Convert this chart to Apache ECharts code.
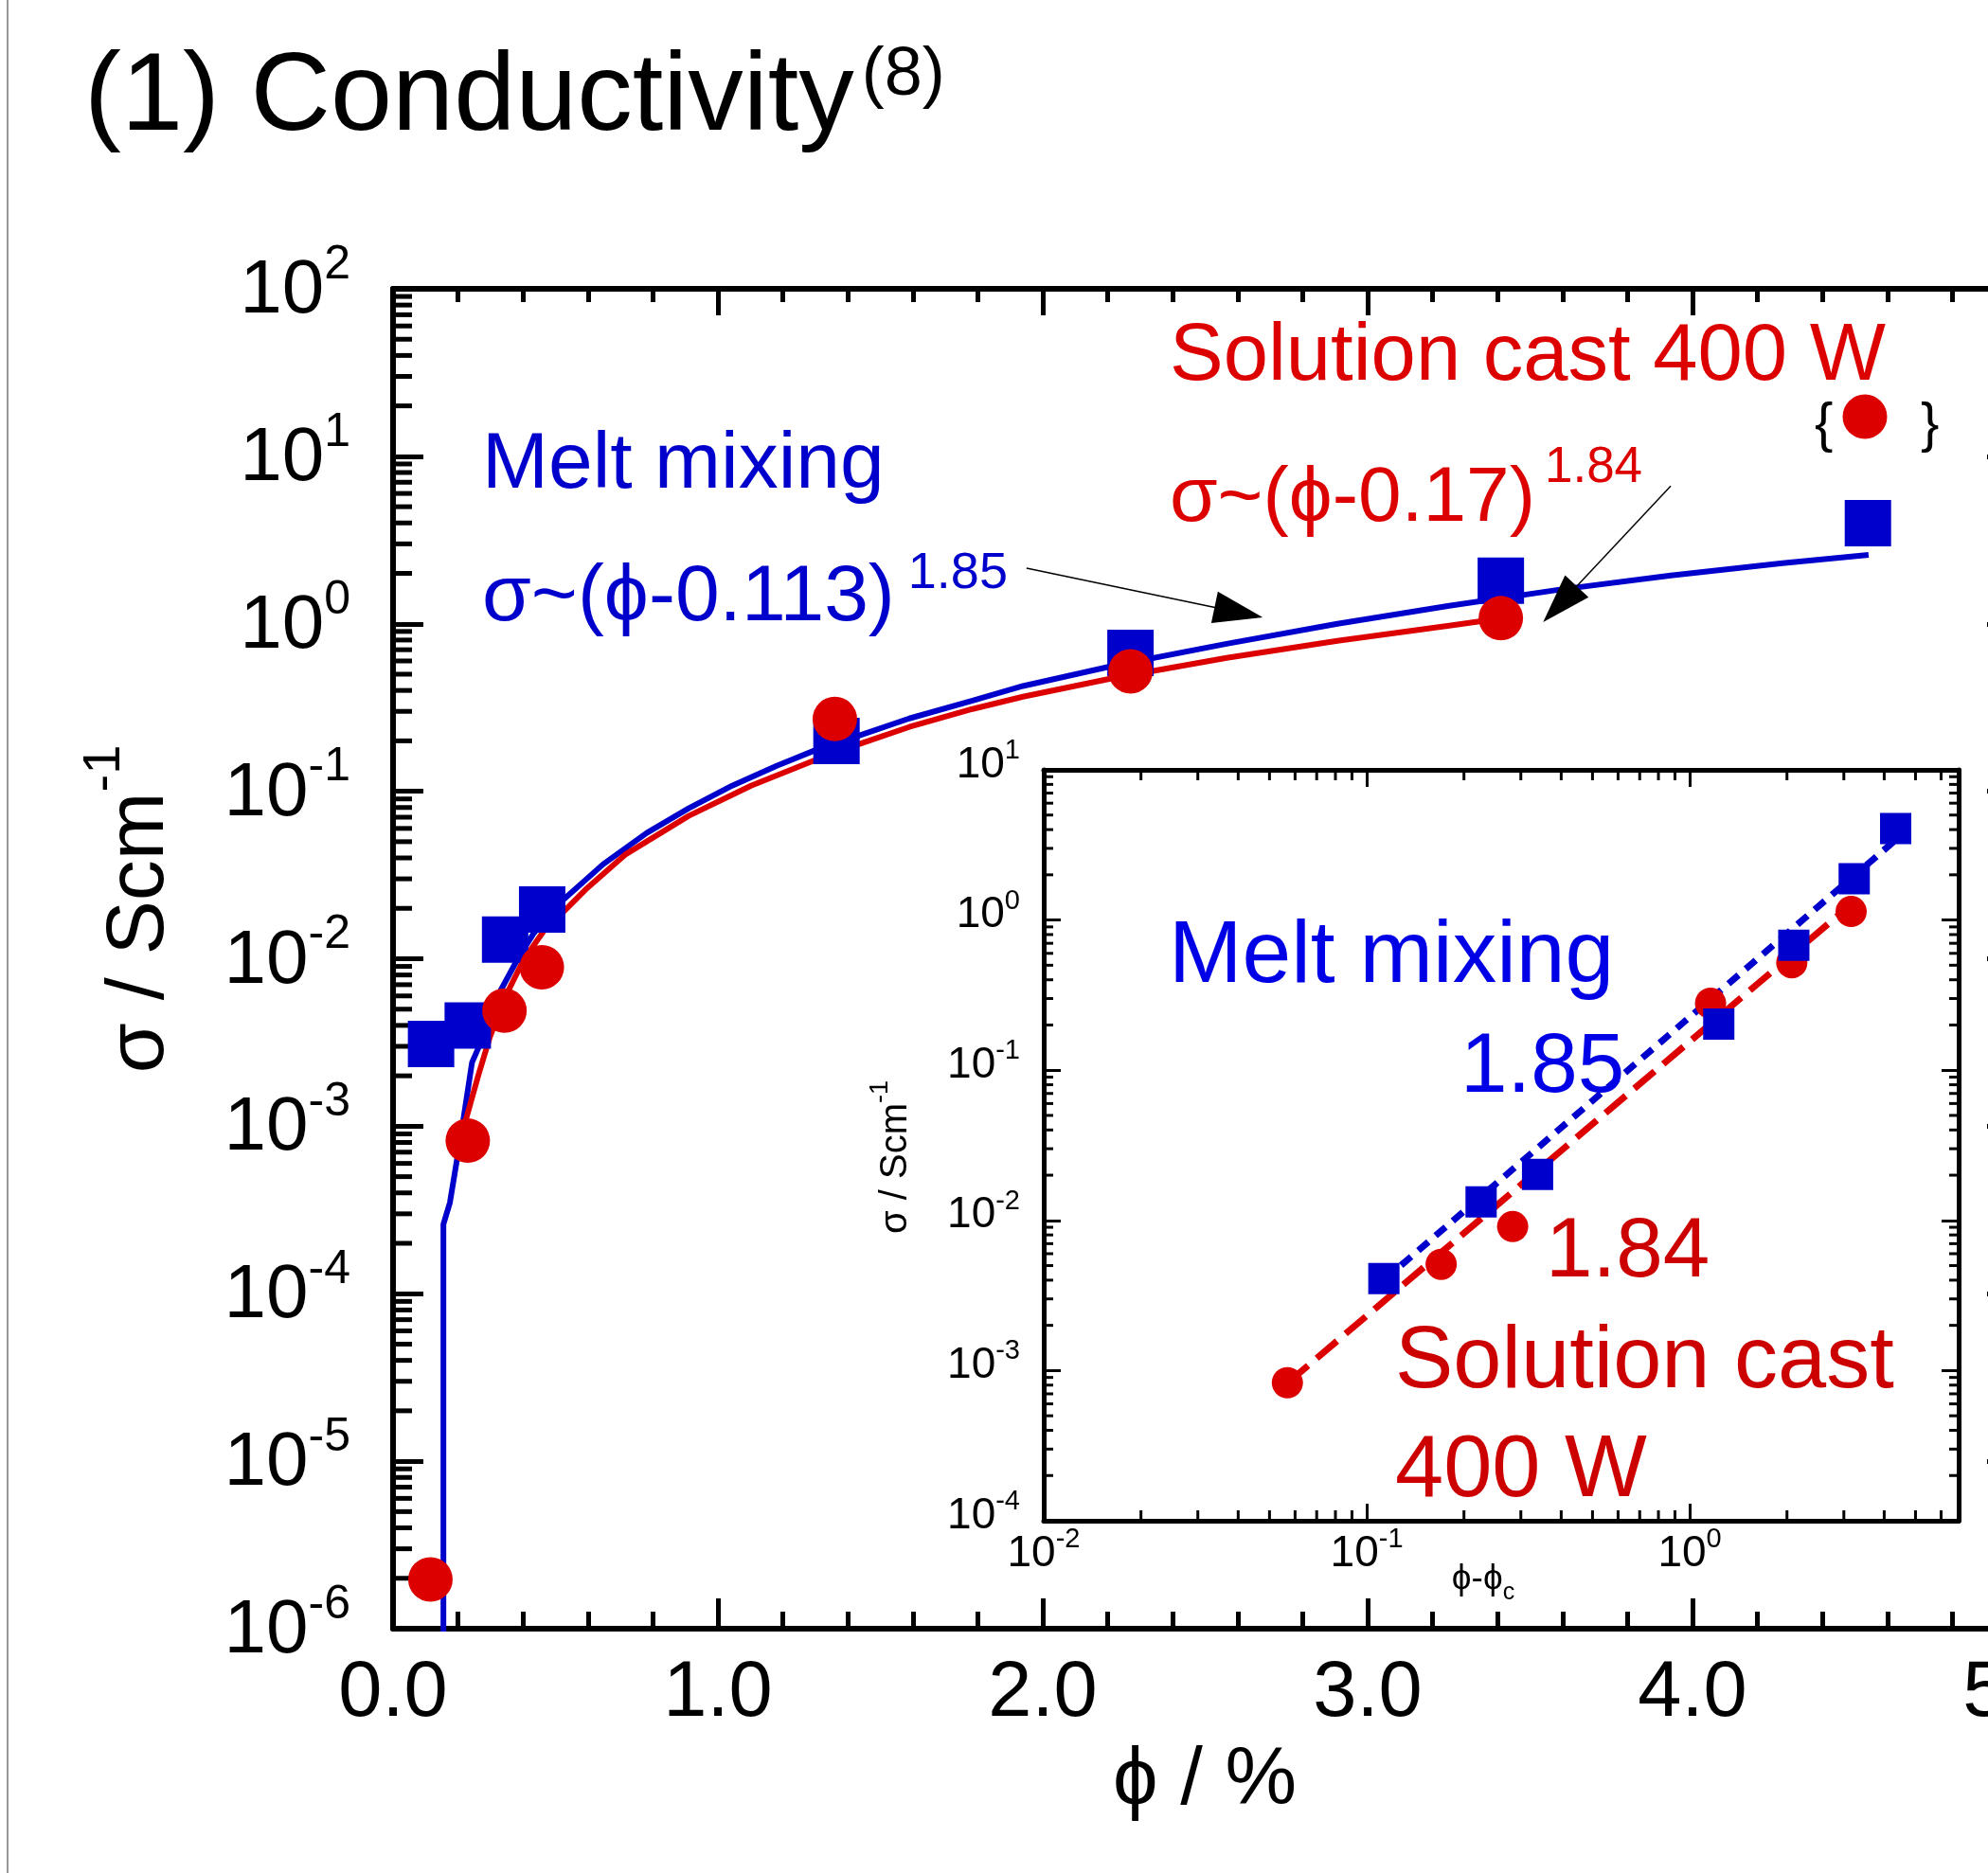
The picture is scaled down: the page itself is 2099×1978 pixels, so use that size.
<!DOCTYPE html>
<html>
<head>
<meta charset="utf-8">
<title>Conductivity</title>
<script src="https://cdn.jsdelivr.net/npm/echarts@6/dist/echarts.min.js"></script>
<style>
  html, body { margin: 0; padding: 0; background: #fff; }
  #main { width: 2099px; height: 1978px; }
</style>
</head>
<body>
<div id="main"></div>
<script>
var FONT = '"Liberation Sans", Arial, Helvetica, sans-serif';
var BLUE = '#0000cc', RED = '#dd0000';

// main plot : phi / %  vs  sigma / S cm-1
var meltPhi   = [0.117, 0.23, 0.345, 0.459, 1.365, 2.27, 3.41, 4.54];
var meltSigma = [3.1e-3, 4.0e-3, 1.3e-2, 1.97e-2, 0.20, 0.67, 1.81, 3.99];
var castPhi   = [0.115, 0.23, 0.343, 0.458, 1.36, 2.27, 3.41];
var castSigma = [1.97e-6, 8.2e-4, 4.9e-3, 8.9e-3, 0.27, 0.52, 1.08];

// fitted curves
var meltFitPhi   = [0.155, 0.155, 0.175, 0.209, 0.243, 0.277, 0.326, 0.384, 0.432, 0.510, 0.647, 0.781, 0.910, 1.044, 1.181, 1.297, 1.434, 1.589, 1.784, 1.939, 2.222, 2.566, 2.907, 3.251, 3.592, 3.933, 4.277, 4.542];
var meltFitSigma = [5e-7, 2.6e-4, 3.5e-4, 8.8e-4, 2.4e-3, 3.4e-3, 6.2e-3, 1.0e-2, 1.41e-2, 2.13e-2, 3.67e-2, 5.64e-2, 7.91e-2, 0.108, 0.142, 0.175, 0.215, 0.272, 0.348, 0.425, 0.564, 0.760, 1.00, 1.28, 1.60, 1.94, 2.30, 2.58];
var castFitPhi   = [0.224, 0.262, 0.297, 0.345, 0.403, 0.471, 0.510, 0.598, 0.714, 0.910, 1.102, 1.297, 1.434, 1.589, 1.784, 1.939, 2.222, 2.566, 2.907, 3.251, 3.402];
var castFitSigma = [1.09e-3, 2.0e-3, 3.36e-3, 5.9e-3, 9.95e-3, 1.53e-2, 1.79e-2, 2.65e-2, 4.18e-2, 7.13e-2, 0.108, 0.153, 0.191, 0.242, 0.310, 0.367, 0.476, 0.626, 0.791, 0.975, 1.07];

// inset : phi - phi_c
var meltDx      = [0.113, 0.226, 0.338, 1.23, 2.10, 3.23, 4.34];
var meltDxSigma = [4.1e-3, 1.33e-2, 2.02e-2, 0.203, 0.68, 1.88, 4.07];
var castDx      = [0.0568, 0.170, 0.283, 1.16, 2.07, 3.16];
var castDxSigma = [8.3e-4, 5.1e-3, 9.1e-3, 0.279, 0.52, 1.14];
var meltLineDx = [0.113, 4.4], meltLineSigma = [4.0e-3, 3.5];
var castLineDx = [0.057, 3.2], castLineSigma = [8.3e-4, 1.3];

// annotation arrows [start, head] in main plot data coords
var arrowMelt = [[1.95, 2.15], [2.603, 1.17]];
var arrowCast = [[3.933, 6.65], [3.592, 1.31]];

function zip(a, b) {
  var r = [];
  for (var i = 0; i < a.length; i++) r.push([a[i], b[i]]);
  return r;
}

// minor ticks of log axes (2..9 x 10^d)
function logMinor(d0, d1, maxV) {
  var r = [];
  for (var d = d0; d <= d1; d++) {
    for (var m = 2; m <= 9; m++) {
      var v = m * Math.pow(10, d);
      if (v <= maxV) r.push(v);
    }
  }
  return r;
}

var mainTicks = [];
logMinor(-6, 1, 100).forEach(function (v) {
  mainTicks.push([0, v, 20, 0]);
  mainTicks.push([5, v, -20, 0]);
});
var insetTicks = [];
logMinor(-4, 0, 10).forEach(function (v) {
  insetTicks.push([0.01, v, 10, 0]);
  insetTicks.push([6.8, v, -10, 0]);
});
logMinor(-2, 0, 6.8).forEach(function (v) {
  insetTicks.push([v, 1e-4, 0, -11]);
  insetTicks.push([v, 10, 0, 11]);
});

function tickRenderer(w) {
  return function (params, api) {
    var p = api.coord([api.value(0), api.value(1)]);
    return {
      type: 'line',
      shape: { x1: p[0], y1: p[1], x2: p[0] + api.value(2), y2: p[1] + api.value(3) },
      style: { stroke: '#000', lineWidth: w }
    };
  };
}

function powLabel(v) {
  var e = Math.log(v) / Math.LN10;
  var n = Math.round(e);
  if (Math.abs(e - n) > 1e-6) return '';
  return '{b|10}{s|' + n + '}';
}

// superscript: sup centre sits `rise` px above the main text centre
function supRich(fs, sfs, lm, rise, gap, color, fillKey) {
  var b = { fontSize: fs, lineHeight: lm, fontFamily: FONT };
  var s = { fontSize: sfs, lineHeight: sfs, verticalAlign: 'top', fontFamily: FONT,
            padding: [Math.max(0, lm / 2 - sfs / 2 - rise), 0, 0, gap] };
  b[fillKey] = color; s[fillKey] = color;
  return { b: b, s: s };
}

function axisLine(w) {
  return { show: true, onZero: false, lineStyle: { color: '#000', width: w } };
}
function ticks(len, w) {
  return { show: true, inside: true, length: len, lineStyle: { color: '#000', width: w } };
}

function label(x, y, text, size, color) {
  return {
    type: 'text', x: x, y: y + 0.045 * size, z: 100,
    style: { text: text, fontSize: size, fontFamily: FONT, fill: color, align: 'left', verticalAlign: 'middle' }
  };
}
function supLabel(x, y, main, sup, color, fs, sfs, rise, gap) {
  return {
    type: 'text', x: x, y: y + 0.045 * fs, z: 100,
    style: {
      text: '{b|' + main + '}{s|' + sup + '}', align: 'left', verticalAlign: 'middle',
      rich: supRich(fs, sfs, fs + 50, rise, gap, color, 'fill')
    }
  };
}

var chart = echarts.init(document.getElementById('main'));

var option = {
  animation: false,
  backgroundColor: '#fff',
  textStyle: { fontFamily: FONT },
  grid: [
    { left: 415, top: 305, right: -31, bottom: 258, outerBoundsMode: 'none', containLabel: false },
    { left: 1102, top: 813, right: 31, bottom: 372, outerBoundsMode: 'none', containLabel: false,
      show: true, backgroundColor: '#fff', borderWidth: 0 }
  ],
  xAxis: [
    {
      gridIndex: 0, type: 'value', position: 'bottom', min: 0, max: 5, interval: 1,
      axisLine: axisLine(6), axisTick: ticks(32, 5),
      minorTick: { show: true, splitNumber: 5, length: 18, lineStyle: { color: '#000', width: 5 } },
      axisLabel: {
        fontSize: 83, lineHeight: 83, color: '#000', margin: 28, fontFamily: FONT,
        showMaxLabel: true,
        formatter: function (v) { return v.toFixed(1); }
      },
      splitLine: { show: false }
    },
    {
      gridIndex: 0, type: 'value', position: 'top', min: 0, max: 5, interval: 1,
      axisLine: axisLine(6), axisTick: ticks(28, 5),
      minorTick: { show: true, splitNumber: 5, length: 14, lineStyle: { color: '#000', width: 5 } },
      axisLabel: { show: false }, splitLine: { show: false }
    },
    {
      gridIndex: 1, type: 'log', position: 'bottom', min: 0.01, max: 6.8, splitNumber: 10,
      axisLine: axisLine(5), axisTick: ticks(18, 3),
      axisLabel: { formatter: powLabel, margin: 0, rich: supRich(46, 29, 70, 15, 0, '#000', 'color') },
      splitLine: { show: false }
    },
    {
      gridIndex: 1, type: 'log', position: 'top', min: 0.01, max: 6.8, splitNumber: 10,
      axisLine: axisLine(5), axisTick: ticks(18, 3),
      axisLabel: { show: false }, splitLine: { show: false }
    }
  ],
  yAxis: [
    {
      gridIndex: 0, type: 'log', position: 'left', min: 1e-6, max: 100, splitNumber: 10,
      axisLine: axisLine(6), axisTick: ticks(32, 5),
      axisLabel: { formatter: powLabel, margin: 45, padding: [6, 0, 0, 0],
                   rich: supRich(80, 50, 120, 28, 0, '#000', 'color') },
      splitLine: { show: false }
    },
    {
      gridIndex: 0, type: 'log', position: 'right', min: 1e-6, max: 100, splitNumber: 10,
      axisLine: axisLine(6), axisTick: ticks(32, 5),
      axisLabel: { show: false }, splitLine: { show: false }
    },
    {
      gridIndex: 1, type: 'log', position: 'left', min: 1e-4, max: 10, splitNumber: 10,
      axisLine: axisLine(5), axisTick: ticks(18, 3),
      axisLabel: { formatter: powLabel, margin: 25, padding: [0, 0, 10, 0],
                   rich: supRich(46, 29, 70, 15, 0, '#000', 'color') },
      splitLine: { show: false }
    },
    {
      gridIndex: 1, type: 'log', position: 'right', min: 1e-4, max: 10, splitNumber: 10,
      axisLine: axisLine(5), axisTick: ticks(18, 3),
      axisLabel: { show: false }, splitLine: { show: false }
    }
  ],
  series: [
    {
      type: 'custom', name: 'minor ticks', xAxisIndex: 0, yAxisIndex: 0,
      renderItem: tickRenderer(5), data: mainTicks, encode: { x: 0, y: 1 }, silent: true, z: 1
    },
    {
      type: 'line', name: 'Melt mixing fit', xAxisIndex: 0, yAxisIndex: 0,
      data: zip(meltFitPhi, meltFitSigma), symbol: 'none',
      lineStyle: { color: BLUE, width: 6 }, z: 2,
      markLine: {
        silent: true, symbol: ['none', 'triangle'],
        label: { show: false },
        lineStyle: { color: '#000', width: 1.5, type: 'solid', opacity: 1 },
        itemStyle: { color: '#000' },
        emphasis: { disabled: true },
        data: [
          [{ coord: arrowMelt[0] }, { coord: arrowMelt[1], symbolSize: [34, 52] }],
          [{ coord: arrowCast[0] }, { coord: arrowCast[1], symbolSize: [34, 52] }]
        ]
      }
    },
    {
      type: 'line', name: 'Solution cast fit', xAxisIndex: 0, yAxisIndex: 0,
      data: zip(castFitPhi, castFitSigma), symbol: 'none',
      lineStyle: { color: RED, width: 6 }, z: 3
    },
    {
      type: 'scatter', name: 'Melt mixing', xAxisIndex: 0, yAxisIndex: 0,
      symbol: 'rect', symbolSize: 49, itemStyle: { color: BLUE, opacity: 1 },
      data: zip(meltPhi, meltSigma), z: 4
    },
    {
      type: 'scatter', name: 'Solution cast 400 W', xAxisIndex: 0, yAxisIndex: 0,
      symbol: 'circle', symbolSize: 47, itemStyle: { color: RED, opacity: 1 },
      data: zip(castPhi, castSigma), z: 5
    },
    // inset
    {
      type: 'custom', name: 'inset minor ticks', xAxisIndex: 2, yAxisIndex: 2,
      renderItem: tickRenderer(3), data: insetTicks, encode: { x: 0, y: 1 }, silent: true, z: 6
    },
    {
      type: 'line', name: 'Melt mixing slope', xAxisIndex: 2, yAxisIndex: 2,
      data: zip(meltLineDx, meltLineSigma), symbol: 'none',
      lineStyle: { color: BLUE, width: 7, type: [14, 10] }, z: 7
    },
    {
      type: 'line', name: 'Solution cast slope', xAxisIndex: 2, yAxisIndex: 2,
      data: zip(castLineDx, castLineSigma), symbol: 'none',
      lineStyle: { color: RED, width: 7, type: [28, 12] }, z: 8
    },
    {
      type: 'scatter', name: 'Solution cast (inset)', xAxisIndex: 2, yAxisIndex: 2,
      symbol: 'circle', symbolSize: 33, itemStyle: { color: RED, opacity: 1 },
      data: zip(castDx, castDxSigma), z: 9
    },
    {
      type: 'scatter', name: 'Melt mixing (inset)', xAxisIndex: 2, yAxisIndex: 2,
      symbol: 'rect', symbolSize: 33, itemStyle: { color: BLUE, opacity: 1 },
      data: zip(meltDx, meltDxSigma), z: 10
    }
  ],
  graphic: {
    elements: [
      { type: 'line', shape: { x1: 8, y1: 0, x2: 8, y2: 1978 }, style: { stroke: '#999', lineWidth: 2 } },
      supLabel(89, 99, '(1) Conductivity', '(8)', '#000', 117, 72, 24, 8),
      label(509, 488, 'Melt mixing', 84, BLUE),
      supLabel(509, 628, 'σ~(ϕ-0.113)', '1.85', BLUE, 84, 54, 26, 14),
      label(1235, 374, 'Solution cast 400 W', 85, RED),
      supLabel(1235, 524, 'σ~(ϕ-0.17)', '1.84', RED, 82, 53, 33, 10),
      label(1916, 447, '{', 58, '#000'),
      label(2028, 447, '}', 58, '#000'),
      { type: 'circle', shape: { cx: 1969, cy: 440, r: 23.5 }, style: { fill: RED }, z: 100 },
      // axis titles
      {
        type: 'text', x: 1272, y: 1882, z: 100,
        style: { text: 'ϕ / %', fontSize: 85, fontFamily: FONT, fill: '#000', align: 'center', verticalAlign: 'middle' }
      },
      {
        type: 'text', x: 148, y: 960, rotation: Math.PI / 2, z: 100,
        style: {
          text: '{b|σ / Scm}{s|-1}', align: 'center', verticalAlign: 'middle',
          rich: supRich(86, 56, 130, 37, 0, '#000', 'fill')
        }
      },
      // inset texts
      {
        type: 'text', x: 946, y: 1222, rotation: Math.PI / 2, z: 100,
        style: {
          text: '{b|σ / Scm}{s|-1}', align: 'center', verticalAlign: 'middle',
          rich: supRich(40, 27, 62, 16, 0, '#000', 'fill')
        }
      },
      {
        type: 'text', x: 1566, y: 1668, z: 100,
        style: {
          text: '{m|ϕ-ϕ}{c|c}', align: 'center', verticalAlign: 'middle',
          rich: {
            m: { fontSize: 37, lineHeight: 54, fontFamily: FONT, fill: '#000' },
            c: { fontSize: 25, lineHeight: 25, verticalAlign: 'bottom', fontFamily: FONT, fill: '#000' }
          }
        }
      },
      label(1234, 1007, 'Melt mixing', 93, '#0000e6'),
      label(1542, 1124, '1.85', 89, '#0000e6'),
      label(1632, 1319, '1.84', 89, '#cc0000'),
      label(1473, 1435, 'Solution cast', 92, '#cc0000'),
      label(1473, 1550, '400 W', 92, '#cc0000')
    ]
  }
};

chart.setOption(option);
window.onresize = chart.resize;
</script>
</body>
</html>
